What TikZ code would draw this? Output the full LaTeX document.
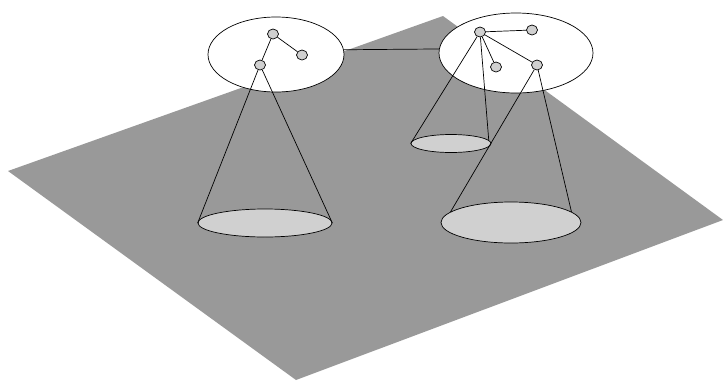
\documentclass[tikz,border=0pt]{standalone}
\usetikzlibrary{shapes.geometric}
\definecolor{planegray}{RGB}{153,153,153}
\definecolor{lightfill}{RGB}{208,208,208}
\begin{document}
\begin{tikzpicture}[x=1pt,y=-1pt,line width=0.7pt,
  plane/.style={fill=planegray,draw=none},
  cluster/.style={ellipse,draw=black,fill=white,inner sep=0pt},
  basedisc/.style={ellipse,draw=black,fill=lightfill,inner sep=0pt},
  dot/.style={ellipse,draw=black,fill=lightfill,inner sep=0pt,minimum width=11pt,minimum height=10pt},
  link/.style={draw=black,line width=0.7pt}]
\useasboundingbox (0,0) rectangle (723,386);
% plane
\path[plane] (8,171) -- (443,16) -- (723,220) -- (296,380) -- cycle;
% top clusters
\node[cluster,minimum width=136pt,minimum height=75pt] (L) at (276,54.5) {};
\node[cluster,minimum width=154pt,minimum height=80pt] (R) at (516,53) {};
\draw[link] (L.4.7) -- (R.177);
% cone bases
\node[basedisc,minimum width=134pt,minimum height=28pt] (B1) at (265,223) {};
\node[basedisc,minimum width=80pt,minimum height=18pt] (B2) at (451,143.5) {};
\node[basedisc,minimum width=140pt,minimum height=41pt] (B3) at (511,222.5) {};
% nodes in left cluster
\node[dot] (A) at (273,34) {};
\node[dot] (B) at (302,55) {};
\node[dot] (C) at (260,65) {};
% nodes in right cluster
\node[dot] (D) at (480,32) {};
\node[dot] (E) at (532,30) {};
\node[dot] (F) at (496,67) {};
\node[dot] (G) at (537,65) {};
% tree edges
\draw[link] (A) -- (B);
\draw[link] (A) -- (C);
\draw[link] (D) -- (E);
\draw[link] (D) -- (F);
\draw[link] (D) -- (G);
% cones
\draw[link] (C) -- (B1.west);
\draw[link] (C) -- (B1.east);
\draw[link] (D) -- (B2.west);
\draw[link] (D) -- (B2.5);
\draw[link] (G) -- (B3.170);
\draw[link] (G) -- (B3.10);
\end{tikzpicture}
\end{document}
